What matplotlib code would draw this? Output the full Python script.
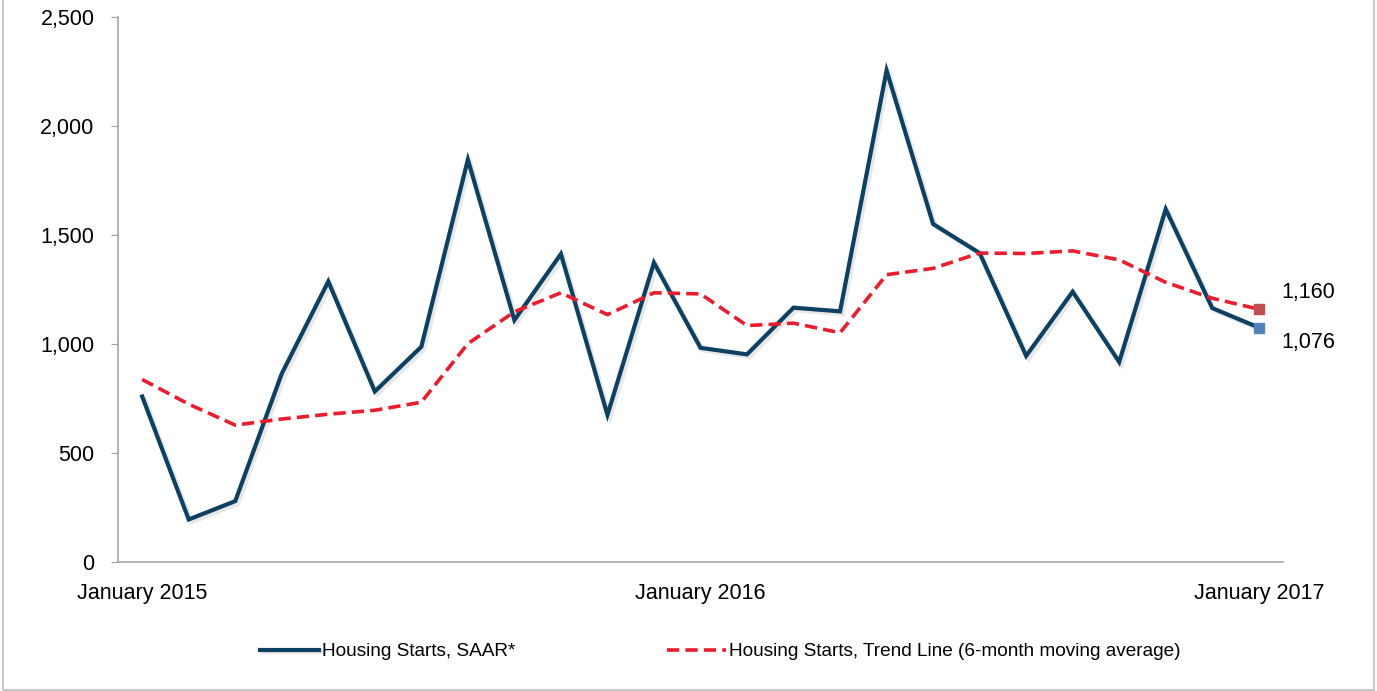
import matplotlib.pyplot as plt
import matplotlib.patheffects as pe
from matplotlib.patches import Rectangle

# monthly housing starts, Jan 2015 - Jan 2017
months = list(range(25))
starts = [760, 197, 281, 865, 1287, 783, 988, 1845, 1110, 1413, 676, 1373, 983,
          953, 1167, 1150, 2253, 1550, 1417, 946, 1240, 918, 1618, 1165, 1076]
trend = [838, 725, 629, 657, 679, 697, 734, 1002, 1148, 1235, 1135, 1235, 1230,
         1085, 1096, 1052, 1318, 1347, 1417, 1415, 1427, 1386, 1283, 1210, 1160]
tick_pos = [0, 12, 24]
tick_labels = ['January 2015', 'January 2016', 'January 2017']

plt.rcParams['font.family'] = ['Liberation Sans', 'DejaVu Sans']

fig = plt.figure(figsize=(13.77, 6.91), dpi=100)
ax = fig.add_axes([0.0857, 0.186, 0.846, 0.79])

navy = '#0D4163'
red = '#EC1C2D'

ax.plot(months, starts, color=navy, lw=3.0, solid_joinstyle='miter',
        label='Housing Starts, SAAR*',
        path_effects=[pe.SimpleLineShadow(offset=(2, -2), alpha=0.18, shadow_color='gray'),
                      pe.Normal()])
ax.plot(months, trend, color=red, lw=2.6, dashes=(3.4, 1.7), label='Housing Starts, Trend Line (6-month moving average)')

ax.plot(months[-1], starts[-1], 's', color='#4F81BD', ms=7, zorder=5)
ax.plot(months[-1], trend[-1], 's', color='#C0504D', ms=7, zorder=5)
ax.annotate(f'{trend[-1]:,}', (months[-1], trend[-1]), xytext=(16, 12), textcoords='offset points',
            fontsize=15.5, va='center', ha='left')
ax.annotate(f'{starts[-1]:,}', (months[-1], starts[-1]), xytext=(16, -11), textcoords='offset points',
            fontsize=15.5, va='center', ha='left')

ax.set_xlim(-0.52, 24.52)
ax.set_ylim(0, 2500)
ax.set_yticks(range(0, 2501, 500))
ax.set_yticklabels([f'{v:,}' for v in range(0, 2501, 500)], fontsize=15.5)
ax.set_xticks(tick_pos)
ax.set_xticklabels(tick_labels, fontsize=15.5)
ax.tick_params(axis='x', length=0, pad=15)
ax.tick_params(axis='y', length=5, color='#A0A0A0', pad=12)
for s in ['top', 'right']:
    ax.spines[s].set_visible(False)
for s in ['left', 'bottom']:
    ax.spines[s].set_color('#A6A6A6')
    ax.spines[s].set_linewidth(1.2)

fig.legend(loc='center', bbox_to_anchor=(0.523, 0.057), ncol=2, frameon=False,
           fontsize=13.7, handlelength=3.1, handletextpad=0.15, columnspacing=8.0)

fig.patches.append(Rectangle((0.002, 0.002), 0.996, 1.2, transform=fig.transFigure,
                             fill=False, edgecolor='#C8C8C8', lw=1.5))

plt.savefig('out.png', dpi=100)
